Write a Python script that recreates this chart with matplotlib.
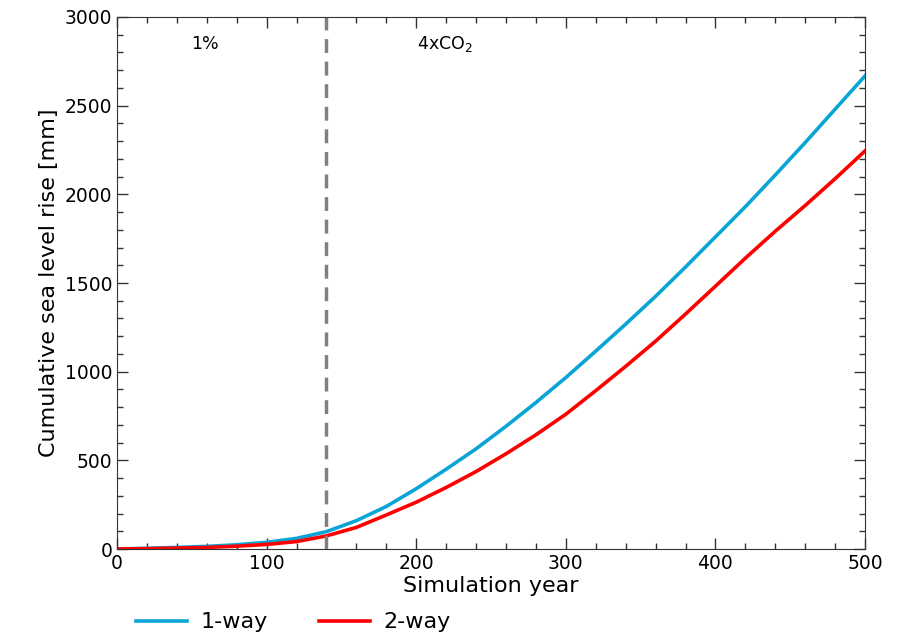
import matplotlib
matplotlib.use('Agg')
import matplotlib.pyplot as plt
from matplotlib.ticker import MultipleLocator
import numpy as np

# simulation years and cumulative sea level rise (mm)
years = np.arange(0, 520, 20)
slr_1way = [0, 4, 9, 15, 24, 38, 60, 98, 160, 240, 340, 450, 565, 692, 826,
            967, 1116, 1268, 1425, 1590, 1760, 1930, 2109, 2292, 2480, 2668]
slr_2way = [0, 2, 5, 9, 16, 26, 42, 74, 122, 192, 264, 347, 437, 537, 644,
            760, 893, 1030, 1172, 1325, 1482, 1640, 1792, 1937, 2088, 2245]

switch_year = 140

fig = plt.figure(figsize=(9.12, 6.39), dpi=100)
ax = fig.add_axes([0.1283, 0.1408, 0.8202, 0.8326])

ax.plot(years, slr_1way, color='#0aa5d6', lw=2.6, label='1-way')
ax.plot(years, slr_2way, color='#ff0000', lw=2.6, label='2-way')
ax.axvline(switch_year, color='#808080', lw=2.5, ls=(0, (4, 2.5)))

ax.text(59, 2848, '1%', fontsize=12.5, ha='center', va='center')
ax.text(219, 2848, '4xCO$_2$', fontsize=12.5, ha='center', va='center')

ax.set_xlim(0, 500)
ax.set_ylim(0, 3000)
ax.xaxis.set_major_locator(MultipleLocator(100))
ax.xaxis.set_minor_locator(MultipleLocator(20))
ax.yaxis.set_major_locator(MultipleLocator(500))
ax.yaxis.set_minor_locator(MultipleLocator(100))
ax.tick_params(which='both', direction='in', top=True, right=True,
               labelsize=13.5, color='#333333')
ax.tick_params(which='major', length=8, width=1)
ax.tick_params(which='minor', length=4, width=1)
for sp in ax.spines.values():
    sp.set_color('#333333')

ax.set_xlabel('Simulation year', fontsize=16, labelpad=2)
ax.set_ylabel('Cumulative sea level rise [mm]', fontsize=16)

fig.legend(loc='center left', bbox_to_anchor=(0.149, 0.026), ncol=2,
           frameon=False, fontsize=16, handlelength=2.3, handletextpad=0.6,
           columnspacing=2.3, borderaxespad=0, borderpad=0)

fig.savefig('out.png', dpi=100)
